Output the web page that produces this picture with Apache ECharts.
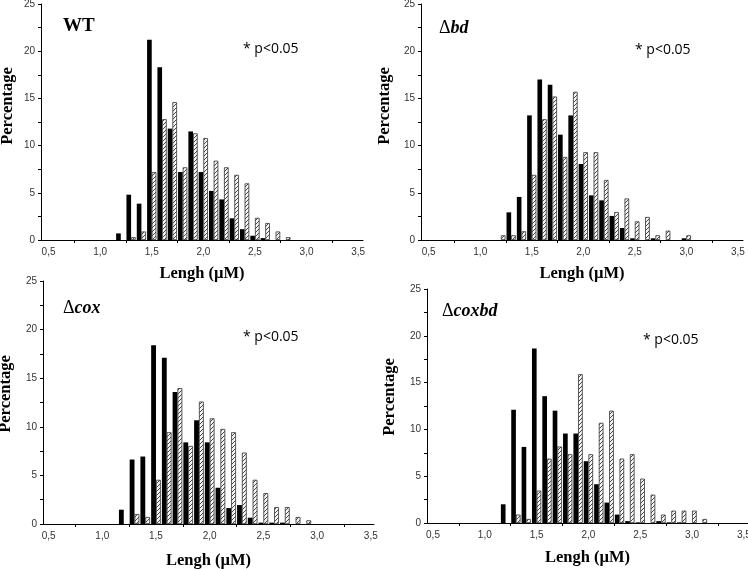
<!DOCTYPE html>
<html><head><meta charset="utf-8">
<script src="https://cdn.jsdelivr.net/npm/echarts@6/dist/echarts.min.js"></script>
<style>html,body{margin:0;padding:0;background:#fff}#c{width:748px;height:569px}</style>
</head><body><div id="c"></div>
<script>
// ---- data ----
const bins = [1.2,1.3,1.4,1.5,1.6,1.7,1.8,1.9,2.0,2.1,2.2,2.3,2.4,2.5,2.6,2.7,2.8,2.9,3.0,3.1];
const xTickLabels = [0.5,1.0,1.5,2.0,2.5,3.0,3.5];
const xMinorTicks = [0.75,1.25,1.75,2.25,2.75,3.25];
const yTickLabels = [0,5,10,15,20,25];
const yTicks = [0,2.5,5,7.5,10,12.5,15,17.5,20,22.5,25];

const wtBlack     = [0.7,4.8,3.85,21.2,18.3,11.8,7.2,11.5,7.2,5.2,4.3,2.3,1.15,0.45,0.2,0,0,0,0,0];
const wtHatched   = [0,0.3,0.9,7.2,12.8,14.6,7.7,11.3,10.8,8.4,7.7,6.9,6.0,2.35,1.8,0.9,0.3,0,0,0];
const bdBlack     = [0,2.93,4.56,13.2,17.0,16.45,11.16,13.2,8.05,4.73,4.2,2.55,1.27,0.18,0,0.18,0,0,0.18,0];
const bdHatched   = [0.5,0.5,0.92,6.9,12.8,15.2,8.8,15.7,9.3,9.3,6.36,2.97,4.4,1.98,2.44,0.5,0.99,0,0.5,0];
const coxBlack    = [1.47,6.63,6.94,18.4,17.1,13.57,8.4,10.67,8.4,3.73,1.64,1.95,0.65,0.14,0.14,0.14,0,0,0,0];
const coxHatched  = [0,1.03,0.72,4.55,9.44,13.98,8.03,12.6,10.87,9.78,9.44,7.35,4.55,3.18,1.74,1.74,0.72,0.38,0,0];
const coxbdBlack  = [2.0,12.1,8.13,18.65,13.55,12.0,9.56,9.56,6.6,4.14,2.18,0.9,0.2,0.07,0,0.2,0.07,0.07,0,0];
const coxbdHatched= [0,0.9,0.43,3.46,6.88,8.17,7.35,15.9,7.35,10.7,12.0,6.88,7.35,4.74,3.03,0.9,1.32,1.32,1.32,0.43];

const panelNames = ['WT','bd','cox','coxbd'];
const pText = '* p<0.05';
const xTitle = 'Lengh (\u00B5M)';
const yTitle = 'Percentage';

// ---- layout ----
const panels = [
  {black: wtBlack,    hatched: wtHatched,    grid:{left:41, top:4,   width:322, height:236}, xr:[0.427,3.547], title:{x:63,  y:26.5}, p:{x:243,y:50},  yGap:25, yShift:32, xGap:25},
  {black: bdBlack,    hatched: bdHatched,    grid:{left:421,top:4,   width:322, height:236}, xr:[0.425,3.55],  title:{x:439, y:29},   p:{x:635,y:51},  yGap:28, yShift:32, xGap:25},
  {black: coxBlack,   hatched: coxHatched,   grid:{left:43, top:281, width:331, height:243}, xr:[0.448,3.53],  title:{x:63,  y:309},  p:{x:243,y:338}, yGap:29, yShift:17, xGap:28},
  {black: coxbdBlack, hatched: coxbdHatched, grid:{left:427,top:289, width:321, height:234}, xr:[0.442,3.54],  title:{x:442, y:312.5},p:{x:643,y:341}, yGap:29, yShift:18, xGap:26}
];

function hatchPattern(){
  const s = 4;
  const c = document.createElement('canvas'); c.width = s; c.height = s;
  const g = c.getContext('2d');
  g.fillStyle = '#f4f4f4'; g.fillRect(0,0,s,s);
  g.strokeStyle = '#3a3a3a'; g.lineWidth = 0.9;
  g.beginPath();
  g.moveTo(0,s); g.lineTo(s,0);
  g.moveTo(-1,1); g.lineTo(1,-1);
  g.moveTo(s-1,s+1); g.lineTo(s+1,s-1);
  g.stroke();
  return c;
}
const pattern = {image: hatchPattern(), repeat: 'repeat'};

const fmt = v => v.toFixed(1).replace('.', ',');
const labelFont = {fontFamily:'Liberation Sans, Arial, sans-serif', fontSize:10, color:'#333'};
const titleFont = {fontFamily:'Liberation Serif, Times New Roman, serif', fontWeight:'bold', fontSize:16.5, color:'#000'};
const toData = (arr) => bins.map((b,j)=>[b, arr[j] === 0 ? '-' : arr[j]]);

const grid = [], xAxis = [], yAxis = [], series = [], graphic = [];
panels.forEach((p, i) => {
  grid.push(Object.assign({outerBoundsMode:'none', containLabel:false}, p.grid));
  xAxis.push({
    gridIndex:i, type:'value', min:p.xr[0], max:p.xr[1],
    axisLine:{show:true, onZero:false, lineStyle:{color:'#000', width:1}},
    axisTick:{show:true, customValues:xMinorTicks, length:3, lineStyle:{color:'#000'}},
    axisLabel:Object.assign({customValues:xTickLabels, formatter:fmt, margin:7}, labelFont),
    splitLine:{show:false},
    name:xTitle, nameLocation:'middle', nameGap:p.xGap, nameTextStyle:titleFont
  });
  yAxis.push({
    gridIndex:i, type:'value', min:0, max:25, interval:5,
    axisLine:{show:true, onZero:false, lineStyle:{color:'#000', width:1}},
    axisTick:{show:true, customValues:yTicks, length:3, lineStyle:{color:'#000'}},
    axisLabel:Object.assign({customValues:yTickLabels, margin:6}, labelFont),
    splitLine:{show:false},
    name:yTitle, nameLocation:'middle', nameRotate:90, nameGap:p.yGap,
    nameTextStyle:Object.assign({padding:[0,0,0,p.yShift]}, titleFont)
  });
  series.push({
    type:'bar', xAxisIndex:i, yAxisIndex:i, barGap:'0%', barCategoryGap:'10%',
    data: toData(p.black),
    itemStyle:{color:'#000'}, silent:true
  });
  series.push({
    type:'bar', xAxisIndex:i, yAxisIndex:i, barGap:'0%', barCategoryGap:'10%',
    data: toData(p.hatched),
    itemStyle:{color:pattern, borderColor:'#333', borderWidth:0.8}, silent:true
  });
  const name = panelNames[i];
  const rich = {
    d:{fontFamily:'Liberation Serif, serif', fontSize:18, fontWeight:'normal', fill:'#000', color:'#000'},
    n:{fontFamily:'Liberation Serif, serif', fontSize:18, fontWeight:'bold', fontStyle:'italic', fill:'#000', color:'#000'}
  };
  graphic.push({
    type:'text', left:p.title.x, top:p.title.y - 10, silent:true,
    style: i === 0
      ? {text:name, font:'bold 19px "Liberation Serif", serif', fill:'#000'}
      : {text:'{d|\u0394}{n|' + name + '}', rich:rich, fill:'#000'}
  });
  graphic.push({
    type:'text', left:p.p.x, top:p.p.y - 8, silent:true,
    style:{text:pText, font:'14px "Open Sans", sans-serif', fill:'#000'}
  });
});

const chart = echarts.init(document.getElementById('c'), null, {renderer:'canvas'});
chart.setOption({animation:false, backgroundColor:'#fff', grid, xAxis, yAxis, series, graphic});
</script>
</body></html>
